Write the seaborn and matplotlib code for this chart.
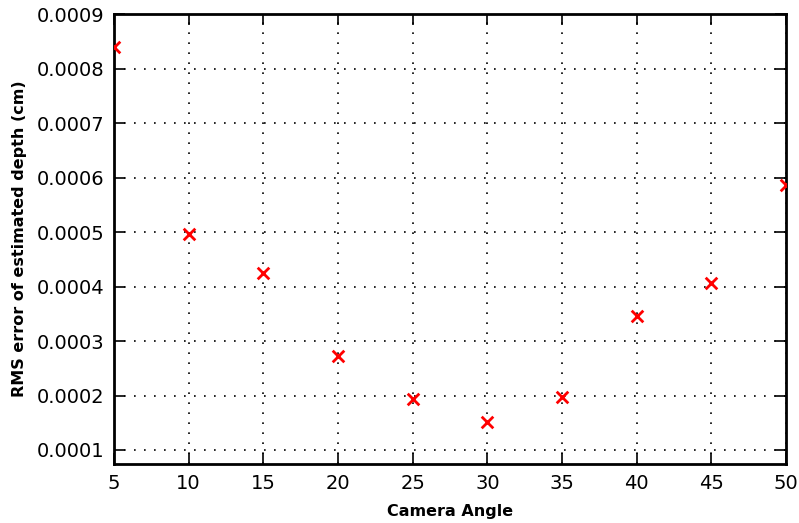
import matplotlib
matplotlib.use("Agg")
import matplotlib.pyplot as plt
import seaborn as sns
import pandas as pd

angles = [5, 10, 15, 20, 25, 30, 35, 40, 45, 50]
rms_error = [0.000839, 0.000496, 0.000425, 0.000273, 0.000193, 0.000152, 0.000198, 0.000345, 0.000406, 0.000586]
yticks = [0.0001, 0.0002, 0.0003, 0.0004, 0.0005, 0.0006, 0.0007, 0.0008, 0.0009]
xticks = [5, 10, 15, 20, 25, 30, 35, 40, 45, 50]

sns.set_style("white")
plt.rcParams['font.family'] = ['DejaVu Sans']
plt.rcParams['axes.labelcolor'] = 'black'
plt.rcParams['text.color'] = 'black'

df = pd.DataFrame({"angle": angles, "rms": rms_error})

fig = plt.figure(figsize=(7.99, 5.23), dpi=100)
ax = fig.add_axes([0.1427, 0.1128, 0.8410, 0.8604])

sns.scatterplot(data=df, x="angle", y="rms", marker="x", color="red", s=70,
                linewidth=2, ax=ax, clip_on=True, zorder=3)

ax.set_xlim(5, 50)
ax.set_ylim(0.0000743, 0.0009)
ax.set_xticks(xticks)
ax.set_xticklabels([str(v) for v in xticks])
ax.set_yticks(yticks)
ax.set_yticklabels([f"{v:.4f}" for v in yticks])

ax.grid(True, color="black", linestyle=(0, (1, 5)), linewidth=1.2)
ax.tick_params(direction="in", length=8, width=1.2, top=True, right=True,
               bottom=True, left=True, labelsize=14, pad=7, colors="black")
for s in ax.spines.values():
    s.set_linewidth(2)
    s.set_color("black")

ax.set_xlabel("Camera Angle", fontsize=11.5, fontweight="bold", labelpad=8, color="black")
ax.set_ylabel("RMS error of estimated depth (cm)", fontsize=11.5, fontweight="bold", labelpad=7, color="black")

fig.savefig("out.png", dpi=100)
